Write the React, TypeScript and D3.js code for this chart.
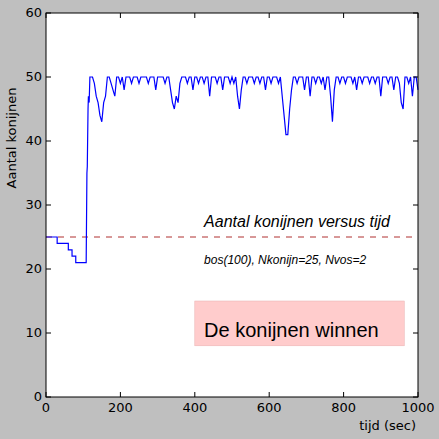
import * as d3 from 'd3'

// early stage (time, value) step points
const earlyT = [0, 30, 30, 60, 60, 70, 70, 80, 80, 108, 110, 111, 113, 114, 116, 118]
const earlyV = [25, 25, 24, 24, 23, 23, 22, 22, 21, 21, 35, 36, 45, 47, 46, 50]
// values every 5 s from t=120 to t=1000
const lateV = [
  50,50,49,47,46,44,43,46,47,50,
  50,49,48,47,50,50,49,50,48,50,
  50,50,49,50,50,50,49,50,50,50,
  50,49,50,50,50,48,50,50,50,50,
  49,50,50,48,46,45,47,46,49,50,
  50,50,49,50,50,48,50,50,49,50,
  50,49,50,50,47,50,50,50,49,50,
  50,48,50,50,50,49,50,49,50,47,
  45,48,50,50,49,50,50,50,49,50,
  50,49,50,50,48,50,50,49,50,50,
  50,49,50,47,44,41,41,45,48,50,
  50,49,50,50,50,48,50,50,47,50,
  50,49,50,50,49,50,48,50,50,47,
  43,48,50,50,49,50,50,49,50,50,
  50,49,50,48,50,50,49,50,50,50,
  49,50,50,49,50,50,47,50,50,50,
  49,50,50,48,50,50,49,46,45,50,
  50,49,50,47,50,50,48,
]
const xTicks = [0, 200, 400, 600, 800, 1000]
const yTicks = [0, 10, 20, 30, 40, 50, 60]
const startRabbits = 25

const W = 439, H = 439
const L = 46, R = 418, T = 13, B = 397

export default function App() {
  const x = d3.scaleLinear().domain([0, 1000]).range([L, R])
  const y = d3.scaleLinear().domain([0, 60]).range([B, T])
  const pts: [number, number][] = earlyT.map((t, i) => [t, earlyV[i]])
  lateV.forEach((v, i) => pts.push([120 + i * 5, v]))
  const line = d3.line<[number, number]>().x(d => x(d[0])).y(d => y(d[1]))
  const font = 'DejaVu Sans, sans-serif'
  const ann = 'Liberation Sans, Arial, sans-serif'
  return (
    <svg width={W} height={H} style={{ position: 'absolute', left: 0, top: 0 }} fontFamily={font}>
      <rect width={W} height={H} fill="#bfbfbf" />
      <rect x={L} y={T} width={R - L} height={B - T} fill="white" />
      <line x1={L} x2={R} y1={y(startRabbits)} y2={y(startRabbits)} stroke="#b03030" strokeDasharray="6,6" strokeWidth={1} />
      <path d={line(pts)!} fill="none" stroke="blue" strokeWidth={1.2} />
      <rect x={x(400)} y={y(15)} width={x(963) - x(400)} height={y(8) - y(15)} fill="#ffcccc" stroke="#e8b0b0" strokeWidth={0.5} />
      <text x={x(425)} y={y(10.2)} fontSize={20} fontFamily={ann} dominantBaseline="middle">De konijnen winnen</text>
      <text x={x(425)} y={y(27.2)} fontSize={16} fontFamily={ann} fontStyle="italic" dominantBaseline="middle">Aantal konijnen versus tijd</text>
      <text x={x(425)} y={y(21.2)} fontSize={12} fontFamily={ann} fontStyle="italic" dominantBaseline="middle">bos(100), Nkonijn=25, Nvos=2</text>
      {xTicks.map(t => (
        <g key={'x' + t}>
          <line x1={x(t)} x2={x(t)} y1={B} y2={B - 5} stroke="black" />
          <line x1={x(t)} x2={x(t)} y1={T} y2={T + 5} stroke="black" />
          <text x={x(t)} y={B + 15} fontSize={13} textAnchor="middle">{t}</text>
        </g>
      ))}
      {yTicks.map(t => (
        <g key={'y' + t}>
          <line x1={L} x2={L + 5} y1={y(t)} y2={y(t)} stroke="black" />
          <line x1={R} x2={R - 5} y1={y(t)} y2={y(t)} stroke="black" />
          <text x={L - 4} y={y(t)} fontSize={13} textAnchor="end" dominantBaseline="middle">{t}</text>
        </g>
      ))}
      <rect x={L} y={T} width={R - L} height={B - T} fill="none" stroke="black" strokeWidth={1} />
      <text x={R - 2} y={430} fontSize={13} textAnchor="end">tijd (sec)</text>
      <text transform={`translate(16,${(T + B) / 2 - 67}) rotate(-90)`} fontSize={13} textAnchor="middle">Aantal konijnen</text>
    </svg>
  )
}
